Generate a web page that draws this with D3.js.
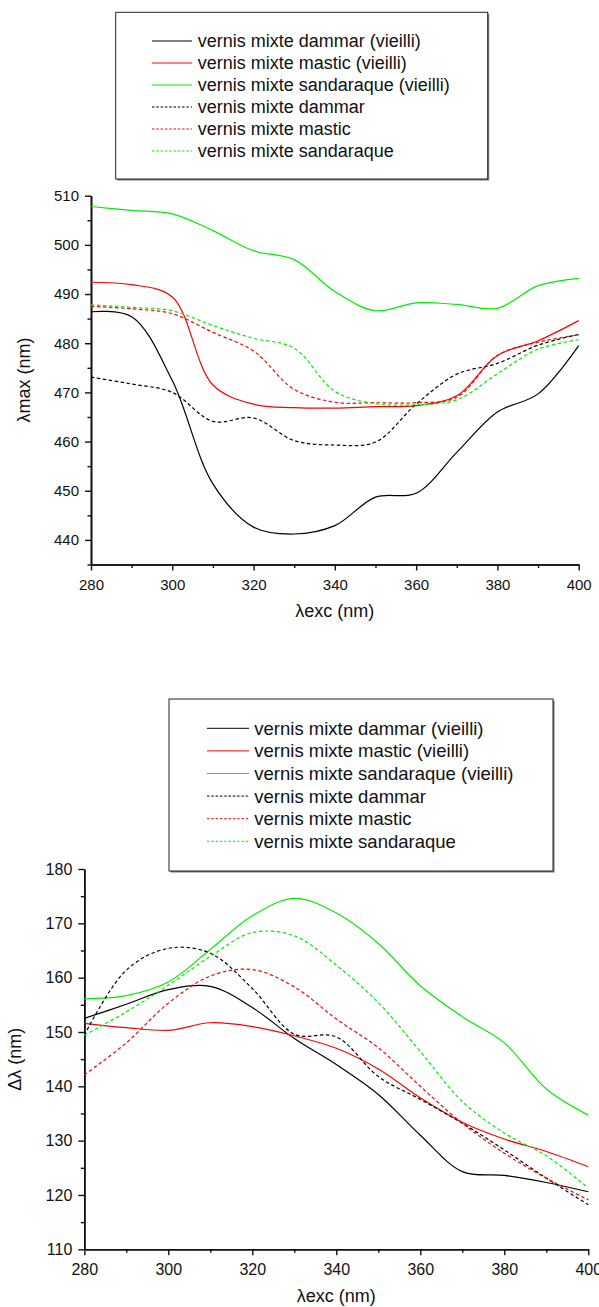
<!DOCTYPE html>
<html><head><meta charset="utf-8">
<script src="https://cdn.jsdelivr.net/npm/d3@7"></script>
<style>
body{margin:0;background:#fff}
svg{display:block}
text{font-family:"Liberation Sans",Arial,Helvetica,sans-serif;fill:#111}
</style>
</head><body>
<svg id="c" width="599" height="1307"></svg>
<script>
// ---------- data ----------
const excitation = [280,290,300,310,320,330,340,350,360,370,380,390,400];
const seriesNames = [
  "vernis mixte dammar (vieilli)",
  "vernis mixte mastic (vieilli)",
  "vernis mixte sandaraque (vieilli)",
  "vernis mixte dammar",
  "vernis mixte mastic",
  "vernis mixte sandaraque"
];
// top chart : λmax (nm)
const lmaxDammarAged   = [486.4,485.4,472.4,451.4,442.6,441.2,442.9,448.7,449.5,457.8,466.0,469.7,479.5];
const lmaxMasticAged   = [492.4,491.9,489.4,471.5,467.6,466.9,466.8,467.1,467.3,469.3,477.5,480.5,484.6];
const lmaxSandAged     = [507.8,507.0,506.3,502.9,498.8,497.0,490.5,486.6,488.2,487.9,487.1,491.7,493.2];
const lmaxDammar       = [473.1,471.7,470.0,464.1,464.8,460.2,459.3,459.9,467.6,473.7,475.9,479.6,481.8];
const lmaxMastic       = [487.5,487.0,486.0,482.2,478.4,470.6,468.0,467.9,467.9,469.0,477.5,480.2,481.7];
const lmaxSand         = [487.8,487.3,486.6,483.6,481.0,479.0,470.2,467.7,467.5,468.5,473.8,478.8,480.7];
// bottom chart : Δλ (nm)
const dlDammarAged     = [152.5,155.1,157.8,158.4,154.5,148.8,144.0,138.5,131.0,124.3,123.6,122.3,120.6];
const dlMasticAged     = [151.6,150.8,150.3,151.7,151.0,149.3,147.0,143.2,137.9,133.4,130.3,128.0,125.2];
const dlSandAged       = [156.1,156.7,159.2,165.2,171.4,174.6,171.9,166.3,158.5,152.8,148.0,139.5,134.7];
const dlDammar         = [149.4,161.4,165.4,164.5,158.0,149.6,149.1,141.8,137.6,133.2,128.3,123.1,118.2];
const dlMastic         = [142.1,148.0,155.3,160.3,161.5,158.3,152.4,147.1,140.0,133.2,127.7,123.1,119.1];
const dlSand           = [149.4,153.7,158.6,163.9,168.3,167.7,162.3,155.4,146.4,137.2,131.4,127.2,121.3];

const xTicksMajor = [280,300,320,340,360,380,400];
const topYTicks = [440,450,460,470,480,490,500,510];
const botYTicks = [110,120,130,140,150,160,170,180];

// ---------- drawing ----------
const svg = d3.select("#c");
const colors = ["#000000","#ff0000","#00ee00","#000000","#ff0000","#00ee00"];
const dashed = [false,false,false,true,true,true];

function drawChart(cfg){
  const g = svg.append("g");
  const x = d3.scaleLinear().domain([280,400]).range([cfg.x0,cfg.x1]);
  const y = d3.scaleLinear().domain(cfg.yDom).range([cfg.y0,cfg.y1]);

  // minor ticks
  const minorX = d3.range(280,401,10).filter(v=>!xTicksMajor.includes(v));
  const minorY = d3.range(cfg.yDom[0],cfg.yDom[1]+0.1,5).filter(v=>!cfg.yTicks.includes(v));

  const xa = g.append("g").attr("transform",`translate(0,${cfg.y0})`)
    .call(d3.axisBottom(x).tickValues(xTicksMajor).tickSize(6).tickSizeOuter(0).tickPadding(5).tickFormat(d3.format("d")));
  const xm = g.append("g").attr("transform",`translate(0,${cfg.y0})`)
    .call(d3.axisBottom(x).tickValues(minorX).tickSize(3.5).tickSizeOuter(0).tickFormat(""));
  const ya = g.append("g").attr("transform",`translate(${cfg.x0},0)`)
    .call(d3.axisLeft(y).tickValues(cfg.yTicks).tickSize(6).tickSizeOuter(0).tickPadding(6).tickFormat(d3.format("d")));
  const ym = g.append("g").attr("transform",`translate(${cfg.x0},0)`)
    .call(d3.axisLeft(y).tickValues(minorY).tickSize(3.5).tickSizeOuter(0).tickFormat(""));
  [xa,xm,ya,ym].forEach(a=>{
    a.selectAll("path.domain").attr("stroke","#111").attr("stroke-width",1.6);
    a.selectAll(".tick line").attr("stroke","#111").attr("stroke-width",1.4);
    a.selectAll("text").style("font-family",'"Liberation Sans",Arial,sans-serif')
      .style("font-size",cfg.tickFont+"px").attr("fill","#111");
  });
  xa.selectAll("text").attr("dy","0.95em");

  const line = d3.line().x((d,i)=>x(excitation[i])).y(d=>y(d)).curve(d3.curveCatmullRom.alpha(0.5));
  cfg.series.forEach((s,k)=>{
    g.append("path").attr("d",line(s)).attr("fill","none")
      .attr("stroke",colors[k]).attr("stroke-width",1.2)
      .attr("stroke-dasharray",dashed[k]?"3.5,2.5":null);
  });

  // axis titles
  g.append("text").attr("x",(cfg.x0+cfg.x1)/2).attr("y",cfg.xTitleY)
    .attr("text-anchor","middle").style("font-size","18px").text("λexc (nm)");
  g.append("text").attr("transform",`translate(${cfg.yTitleX},${(cfg.y0+cfg.y1)/2}) rotate(-90)`)
    .attr("text-anchor","middle").attr("dy","0.35em").style("font-size","18px").text(cfg.yTitle);

  // legend
  const L = cfg.legend;
  const lg = svg.append("g");
  lg.append("rect").attr("x",L.bx+1.5).attr("y",L.by+1.5).attr("width",L.bw).attr("height",L.bh).attr("fill","#777");
  lg.append("rect").attr("x",L.bx).attr("y",L.by).attr("width",L.bw).attr("height",L.bh)
    .attr("fill","#fff").attr("stroke","#222").attr("stroke-width",1);
  seriesNames.forEach((n,k)=>{
    const yy = L.ry0 + k*L.step;
    lg.append("line").attr("x1",L.lx0).attr("x2",L.lx1).attr("y1",yy).attr("y2",yy)
      .attr("stroke",colors[k]).attr("stroke-width",1)
      .attr("stroke-dasharray",dashed[k]?"2.5,1.8":null);
    lg.append("text").attr("x",L.tx).attr("y",yy).attr("dy","0.35em")
      .style("font-size",L.font+"px").text(n);
  });
}

drawChart({
  x0:91, x1:578.7, y0:564.5, y1:195.7, yDom:[435,510], yTicks:topYTicks, tickFont:15,
  xTitleY:617, yTitleX:24, yTitle:"λmax (nm)",
  series:[lmaxDammarAged,lmaxMasticAged,lmaxSandAged,lmaxDammar,lmaxMastic,lmaxSand],
  legend:{bx:115.7,by:12.3,bw:372,bh:166.7,ry0:41,step:22,lx0:152,lx1:192,tx:197.7,font:18}
});
drawChart({
  x0:84.3, x1:588.3, y0:1249.3, y1:869, yDom:[110,180], yTicks:botYTicks, tickFont:16,
  xTitleY:1302, yTitleX:15, yTitle:"Δλ (nm)",
  series:[dlDammarAged,dlMasticAged,dlSandAged,dlDammar,dlMastic,dlSand],
  legend:{bx:169,by:699,bw:384,bh:172,ry0:728.3,step:22.6,lx0:207,lx1:249,tx:254.3,font:18.5}
});
</script>
</body></html>
